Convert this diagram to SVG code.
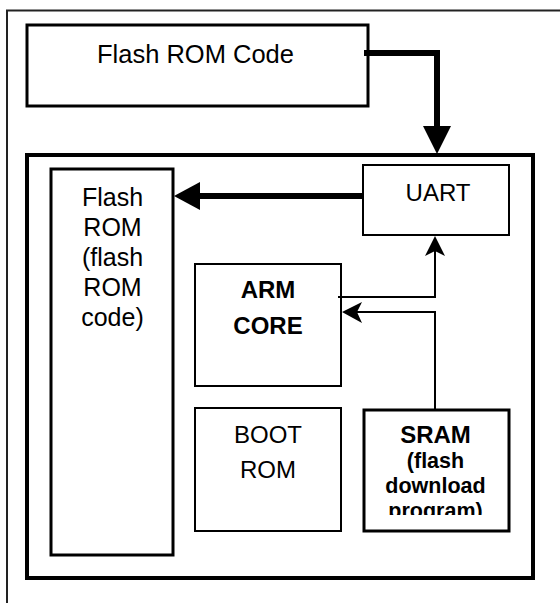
<svg xmlns="http://www.w3.org/2000/svg" width="560" height="603" viewBox="0 0 560 603">
<style>
.t{font-family:"Liberation Sans",Arial,sans-serif;font-size:24px;fill:#000;text-anchor:middle}
.f{font-size:25px}
.b{font-weight:bold}
.s{font-size:21.5px}
.thin{fill:#fff;stroke:#000;stroke-width:2}
.thick{fill:#fff;stroke:#000;stroke-width:3}
.ln{fill:none;stroke:#000}
</style>
<defs>
<clipPath id="sramclip"><rect x="364" y="410" width="145" height="105"/></clipPath>
</defs>
<rect x="0" y="0" width="560" height="603" fill="#fff"/>
<path d="M7,603 V10.5 H560" fill="none" stroke="#222" stroke-width="2"/>
<g id="flash-rom-code">
<rect class="thick" x="27" y="25" width="341" height="81"/>
<text class="t" x="195.5" y="63" style="font-size:25.5px">Flash ROM Code</text>
</g>
<g id="chip">
<rect x="27" y="155" width="506" height="423" fill="none" stroke="#000" stroke-width="4"/>
</g>
<g id="uart">
<rect class="thin" x="363" y="165" width="146" height="70"/>
<text class="t" x="438" y="201">UART</text>
</g>
<g id="flash-rom">
<rect class="thick" x="51" y="169" width="122" height="386"/>
<text class="t f" x="112.5" y="206">Flash</text>
<text class="t f" x="112.5" y="236">ROM</text>
<text class="t f" x="112.5" y="266">(flash</text>
<text class="t f" x="112.5" y="296">ROM</text>
<text class="t f" x="112.5" y="326">code)</text>
</g>
<g id="arm-core">
<rect class="thin" x="195" y="264" width="146" height="122"/>
<text class="t b" x="268" y="298">ARM</text>
<text class="t b" x="268" y="334">CORE</text>
</g>
<g id="boot-rom">
<rect class="thin" x="195" y="408" width="146" height="123"/>
<text class="t" x="268" y="443">BOOT</text>
<text class="t" x="268" y="478">ROM</text>
</g>
<g id="sram">
<rect class="thick" x="364" y="410" width="145" height="121"/>
<g clip-path="url(#sramclip)">
<text class="t b" x="435.5" y="443">SRAM</text>
<text class="t b s" x="435.5" y="468">(flash</text>
<text class="t b s" x="435.5" y="493">download</text>
<text class="t b s" x="435.5" y="518">program)</text>
</g>
</g>
<g id="connectors">
<path class="ln" d="M364,53 H437 V128" stroke-width="6"/>
<polygon points="423,126 451,126 437,154" fill="#000"/>
<path class="ln" d="M363,196 H198" stroke-width="6"/>
<polygon points="174,196 200,182 200,210" fill="#000"/>
<path class="ln" d="M338,297 H435 V250" stroke-width="2"/>
<polygon points="435,236 445,256 435,251 425,256" fill="#000"/>
<path class="ln" d="M435,410 V312 H356" stroke-width="2"/>
<polygon points="342,312 362,302 357,312 362,323" fill="#000"/>
</g>
</svg>
